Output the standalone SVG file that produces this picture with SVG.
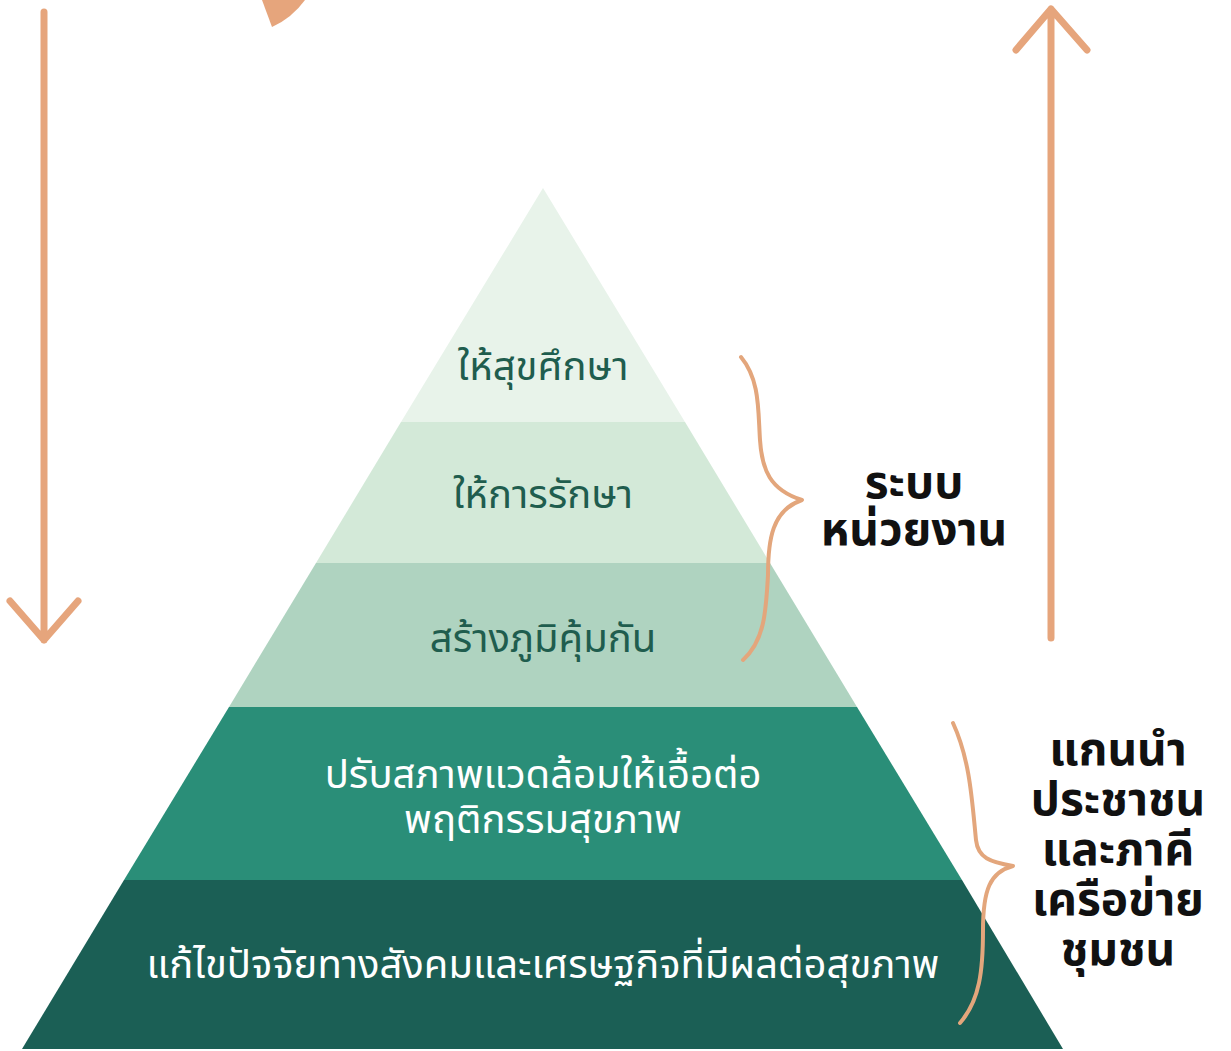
<svg xmlns="http://www.w3.org/2000/svg" width="1231" height="1051" viewBox="0 0 1231 1051">
<style>
.arrow{fill:none;stroke:#e6a57c;stroke-width:7;stroke-linecap:round;stroke-linejoin:round}
.brace{fill:none;stroke:#e3a67c;stroke-width:4;stroke-linecap:round;stroke-linejoin:round}
.tl{font-family:"Noto Sans Thai","Noto Sans","Liberation Sans",sans-serif;font-size:40px;text-anchor:middle}
.dark{fill:#1f5d4e}
.light{fill:#ffffff}
.lab{font-family:"Noto Sans Thai","Noto Sans","Liberation Sans",sans-serif;font-size:46px;font-weight:bold;text-anchor:middle;fill:#111111}
</style>
<rect width="1231" height="1051" fill="#ffffff"/>
<g id="top-blob"><path d="M262 0 L305 0 Q292 18 272 27 Z" fill="#e6a57c"/></g>
<g id="tier1"><polygon points="543,188 685,422 401,422" fill="#e8f3ea"/><text class="tl dark" x="543" y="380">ให้สุขศึกษา</text></g>
<g id="tier2"><polygon points="401,422 685,422 770,563 316,563" fill="#d3e9d8"/><text class="tl dark" x="543" y="508">ให้การรักษา</text></g>
<g id="tier3"><polygon points="316,563 770,563 857,707 229,707" fill="#afd3c0"/><text class="tl dark" x="543" y="652">สร้างภูมิคุ้มกัน</text></g>
<g id="tier4"><polygon points="229,707 857,707 962,880 124,880" fill="#2a8e78"/><text class="tl light" x="543" y="788"><tspan x="543">ปรับสภาพแวดล้อมให้เอื้อต่อ</tspan><tspan x="543" dy="45">พฤติกรรมสุขภาพ</tspan></text></g>
<g id="tier5"><polygon points="124,880 962,880 1063,1049 22,1049" fill="#1b5f55"/><text class="tl light" x="543" y="978" font-size="41">แก้ไขปัจจัยทางสังคมและเศรษฐกิจที่มีผลต่อสุขภาพ</text></g>
<g id="label1"><text class="lab" x="914" y="498"><tspan x="914">ระบบ</tspan><tspan x="914" dy="47">หน่วยงาน</tspan></text></g>
<g id="label2"><text class="lab" x="1118" y="765"><tspan x="1118">แกนนำ</tspan><tspan x="1118" dy="50">ประชาชน</tspan><tspan x="1118" dy="50">และภาคี</tspan><tspan x="1118" dy="50">เครือข่าย</tspan><tspan x="1118" dy="50">ชุมชน</tspan></text></g>
<g id="connectors">
<path class="arrow" d="M44 12 L44 640 M10 601 L44 640 L78 601"/>
<path class="arrow" d="M1051 638 L1051 9 M1016 50 L1051 9 L1087 50"/>
<path class="brace" d="M741 357 C760 380 758 410 760 440 C762 470 770 490 802 500 C772 510 768 540 768 575 C766 610 765 640 743 660"/>
<path class="brace" d="M953 723 C970 760 972 800 976 840 C978 858 990 862 1013 866 C990 872 983 890 983 930 C983 970 980 1000 960 1023"/>
</g>
</svg>
